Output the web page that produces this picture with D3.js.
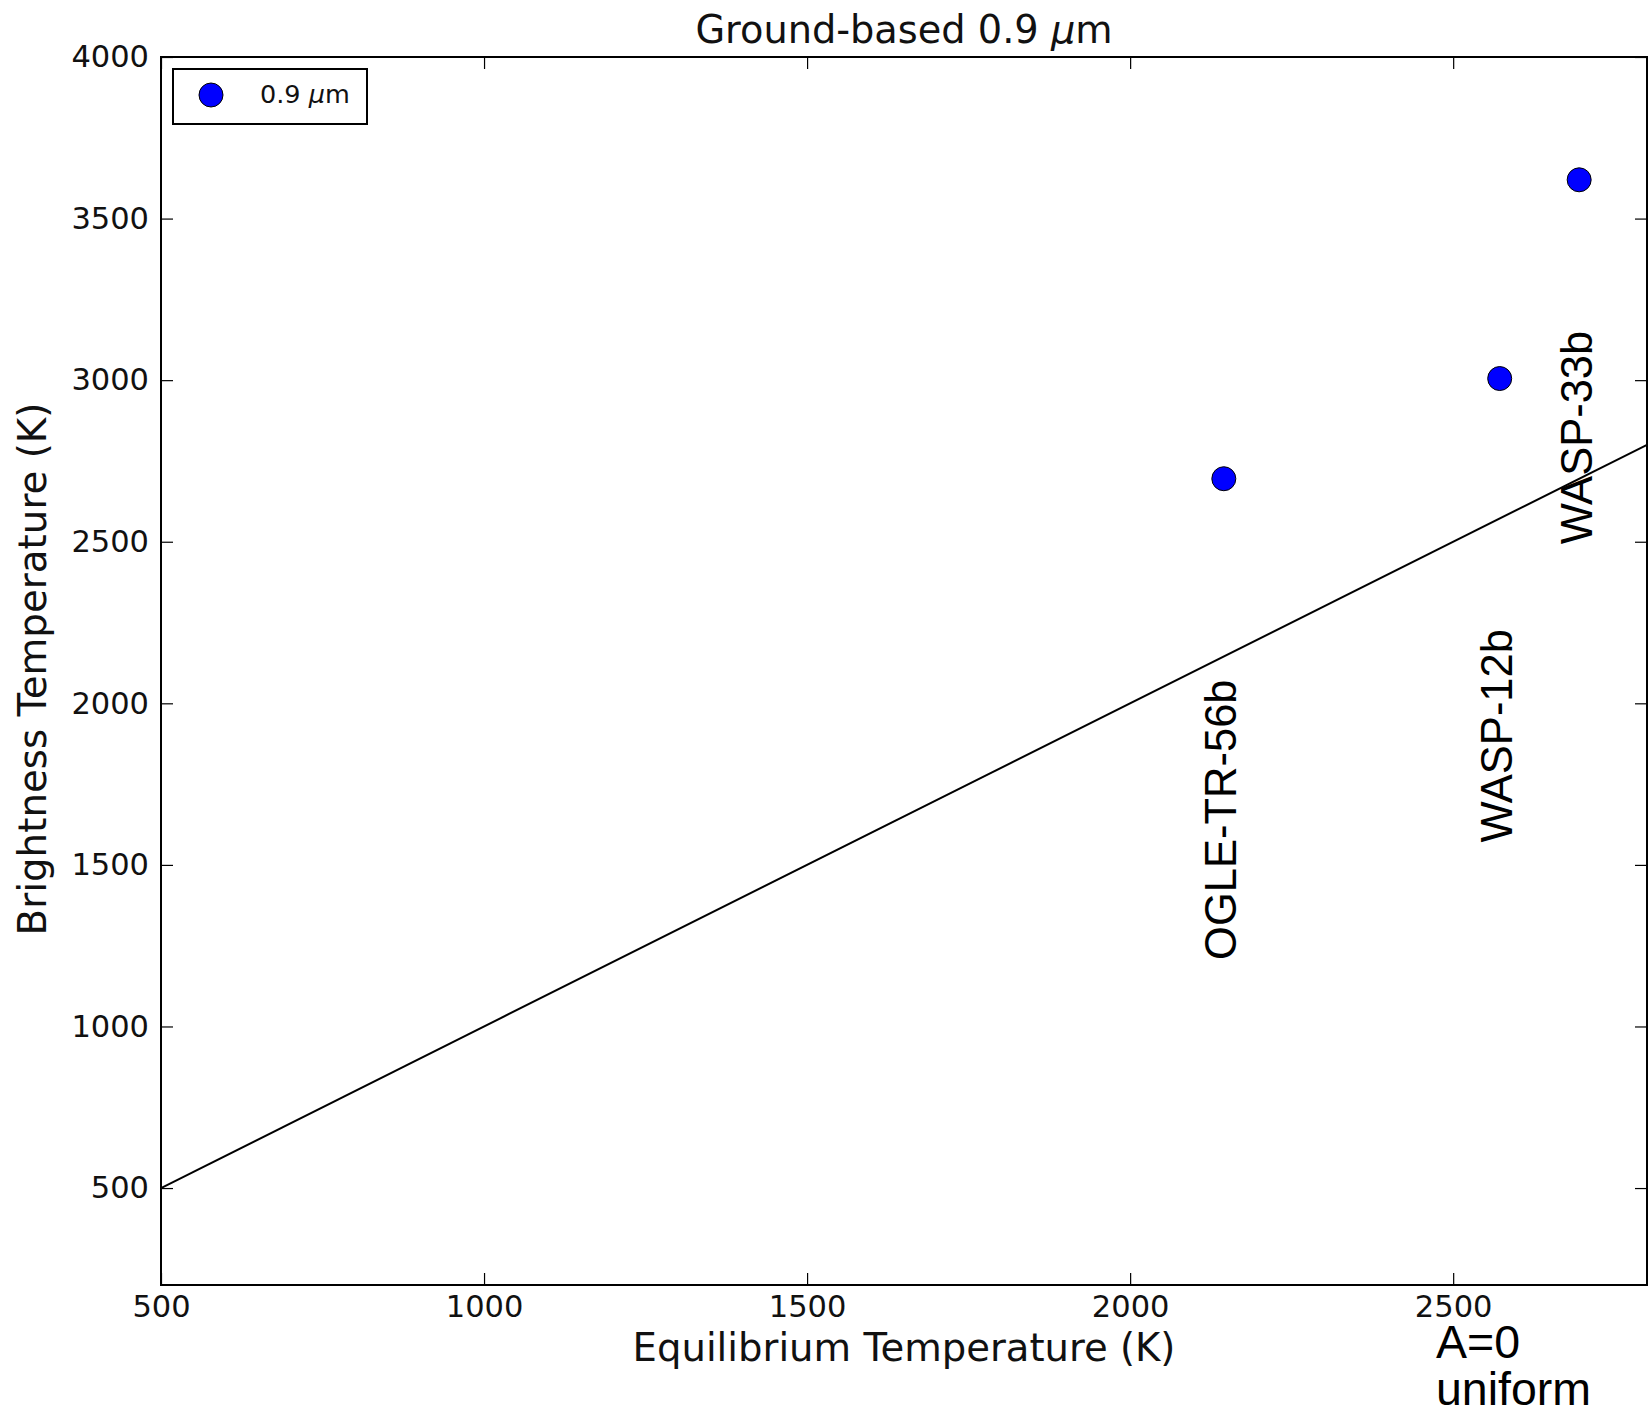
<!DOCTYPE html>
<html>
<head>
<meta charset="utf-8">
<script src="https://cdn.jsdelivr.net/npm/d3@7/dist/d3.min.js"></script>
<style>
  html, body { margin: 0; padding: 0; background: #fff; }
  svg { display: block; }
</style>
</head>
<body>
<svg id="chart" width="1651" height="1417"></svg>
<script>
// ---- data ----
const planets = ["OGLE-TR-56b", "WASP-12b", "WASP-33b"];
const eqTemp = [2145, 2572, 2695];
const brightTemp = [2695, 3005, 3620];
// label anchors (data coords of rotated label start)
const labelX = [2164, 2591, 2715];
const labelY = [1206, 1569, 2492];
// reference line T_b = T_eq
const lineX = [500, 2800];
const lineY = [500, 2800];
const xTicks = [500, 1000, 1500, 2000, 2500];
const yTicks = [500, 1000, 1500, 2000, 2500, 3000, 3500, 4000];
const xDomain = [500, 2800];
const yDomain = [200, 4000];
const titleText = "Ground-based 0.9 ";
const legendLabel = "0.9 ";
const xLabel = "Equilibrium Temperature (K)";
const yLabel = "Brightness Temperature (K)";
const noteLines = ["A=0", "uniform"];

// ---- layout ----
const L = 161, T = 57, R = 1647, B = 1285;
const svg = d3.select("#chart");
const x = d3.scaleLinear().domain(xDomain).range([L, R]);
const y = d3.scaleLinear().domain(yDomain).range([B, T]);
const tickFont = "DejaVu Sans, sans-serif";

// reference line
svg.append("path")
  .datum(lineX.map((v, i) => [v, lineY[i]]))
  .attr("d", d3.line().x(d => x(d[0])).y(d => y(d[1])))
  .attr("fill", "none").attr("stroke", "#000").attr("stroke-width", 2);

// axes
function styleAxis(g) {
  g.select(".domain").remove();
  g.selectAll(".tick line").attr("stroke", "#000").attr("stroke-width", 1.2);
  g.selectAll(".tick text").attr("fill", "#111")
    .style("font-family", tickFont).style("font-size", "30.5px");
}
svg.append("g").attr("transform", `translate(0,${B})`)
  .call(d3.axisBottom(x).tickValues(xTicks).tickSize(-12).tickPadding(10).tickFormat(d3.format("d")))
  .call(styleAxis);
svg.append("g").attr("transform", `translate(0,${T})`)
  .call(d3.axisTop(x).tickValues(xTicks).tickSize(-12).tickFormat(""))
  .call(styleAxis);
svg.append("g").attr("transform", `translate(${L},0)`)
  .call(d3.axisLeft(y).tickValues(yTicks).tickSize(-12).tickPadding(12).tickFormat(d3.format("d")))
  .call(styleAxis);
svg.append("g").attr("transform", `translate(${R},0)`)
  .call(d3.axisRight(y).tickValues(yTicks).tickSize(-12).tickFormat(""))
  .call(styleAxis);

// frame
svg.append("rect").attr("x", L).attr("y", T).attr("width", R - L).attr("height", B - T)
  .attr("fill", "none").attr("stroke", "#000").attr("stroke-width", 2);

// points
svg.append("g").selectAll("circle").data(planets).join("circle")
  .attr("cx", (d, i) => x(eqTemp[i]))
  .attr("cy", (d, i) => y(brightTemp[i]))
  .attr("r", 12)
  .attr("fill", "#0000ff").attr("stroke", "#000").attr("stroke-width", 1);

// planet labels (rotated)
svg.append("g").selectAll("text").data(planets).join("text")
  .attr("transform", (d, i) => `translate(${x(labelX[i])},${y(labelY[i])}) rotate(-90)`)
  .attr("text-anchor", "start")
  .style("font-family", "Liberation Sans, Arial, sans-serif")
  .style("font-size", "43.5px")
  .attr("fill", "#000")
  .text(d => d);

// title
const title = svg.append("text").attr("x", (L + R) / 2).attr("y", 43)
  .attr("text-anchor", "middle")
  .style("font-family", tickFont).style("font-size", "38.3px").attr("fill", "#111");
title.append("tspan").text(titleText);
title.append("tspan").style("font-style", "italic").text("\u03bc");
title.append("tspan").text("m");

// axis labels
svg.append("text").attr("x", (L + R) / 2).attr("y", 1361)
  .attr("text-anchor", "middle")
  .style("font-family", tickFont).style("font-size", "38.6px").attr("fill", "#111")
  .text(xLabel);
svg.append("text").attr("transform", `translate(46,${(T + B) / 2 - 2}) rotate(-90)`)
  .attr("text-anchor", "middle")
  .style("font-family", tickFont).style("font-size", "38.8px").attr("fill", "#111")
  .text(yLabel);

// legend
const lg = svg.append("g");
lg.append("rect").attr("x", 173).attr("y", 69).attr("width", 194).attr("height", 55)
  .attr("fill", "#fff").attr("stroke", "#000").attr("stroke-width", 2);
lg.append("circle").attr("cx", 211).attr("cy", 95).attr("r", 12)
  .attr("fill", "#0000ff").attr("stroke", "#000").attr("stroke-width", 1);
const lt = lg.append("text").attr("x", 260).attr("y", 103)
  .style("font-family", tickFont).style("font-size", "25.5px").attr("fill", "#111");
lt.append("tspan").text(legendLabel);
lt.append("tspan").style("font-style", "italic").text("\u03bc");
lt.append("tspan").text("m");

// note text
svg.append("g").selectAll("text").data(noteLines).join("text")
  .attr("x", 1436).attr("y", (d, i) => 1358 + i * 47)
  .style("font-family", "Liberation Sans, Arial, sans-serif")
  .style("font-size", "46.5px").attr("fill", "#000")
  .text(d => d);
</script>
</body>
</html>
